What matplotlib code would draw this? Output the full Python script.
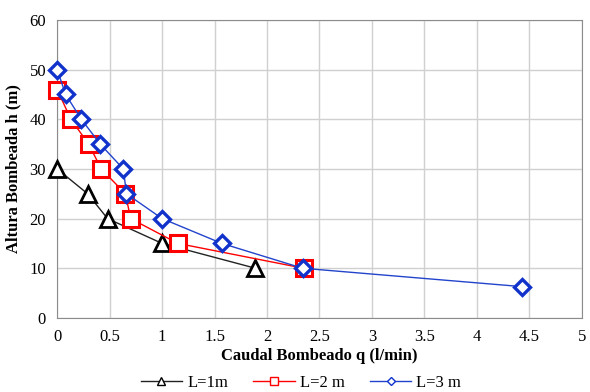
import matplotlib.pyplot as plt

plt.rcParams['font.family'] = ['Liberation Serif', 'DejaVu Serif']

# L = 1 m
q1 = [0, 0.29, 0.48, 1.0, 1.89]
h1 = [30, 25, 20, 15, 10]
# L = 2 m
q2 = [0, 0.13, 0.30, 0.42, 0.65, 0.70, 1.15, 2.35]
h2 = [46, 40, 35, 30, 25, 20, 15, 10]
# L = 3 m
q3 = [0, 0.08, 0.23, 0.41, 0.63, 0.66, 1.0, 1.57, 2.34, 4.43]
h3 = [50, 45, 40, 35, 30, 25, 20, 15, 10, 6.3]

xticks = [0, 0.5, 1, 1.5, 2, 2.5, 3, 3.5, 4, 4.5, 5]
xticklabels = ["0", "0.5", "1", "1.5", "2", "2.5", "3", "3.5", "4", "4.5", "5"]
yticks = [0, 10, 20, 30, 40, 50, 60]

fig = plt.figure(figsize=(5.9, 3.92), dpi=100)
ax = fig.add_axes([0.097, 0.189, 0.889, 0.760])

ax.plot(q1, h1, color="#222222", lw=1.0, marker="^", ms=12, mfc="white",
        mec="black", mew=2, label="L=1m", zorder=3, clip_on=False)
ax.plot(q2, h2, color="red", lw=1.0, marker="s", ms=12, mfc="white",
        mec="red", mew=2.2, label="L=2 m", zorder=4, clip_on=False)
ax.plot(q3, h3, color="#2244cc", lw=1.0, marker="D", ms=8.5, mfc="white",
        mec="#1133cc", mew=2.4, label="L=3 m", zorder=5, clip_on=False)

ax.set_xlim(0, 5)
ax.set_ylim(0, 60)
ax.set_xticks(xticks)
ax.set_xticklabels(xticklabels)
ax.set_yticks(yticks)
ax.grid(True, color="#d0d0d0", lw=1.0)
ax.set_axisbelow(True)
ax.tick_params(length=0, labelsize=12, pad=8)
for s in ax.spines.values():
    s.set_color("#8c8c8c")

ax.set_xlabel("Caudal Bombeado q (l/min)", fontsize=12, fontweight="bold", labelpad=2)
ax.set_ylabel("Altura Bombeada h (m)", fontsize=12, fontweight="bold", labelpad=6)

leg = fig.legend(loc="lower center", bbox_to_anchor=(0.51, -0.035), ncol=3,
                 frameon=False, fontsize=12, handlelength=2.5, columnspacing=1.5,
                 handletextpad=0.3, markerscale=0.5)
for h in leg.legend_handles:
    h.set_markeredgewidth(1.0)

fig.savefig("out.png", dpi=100)
